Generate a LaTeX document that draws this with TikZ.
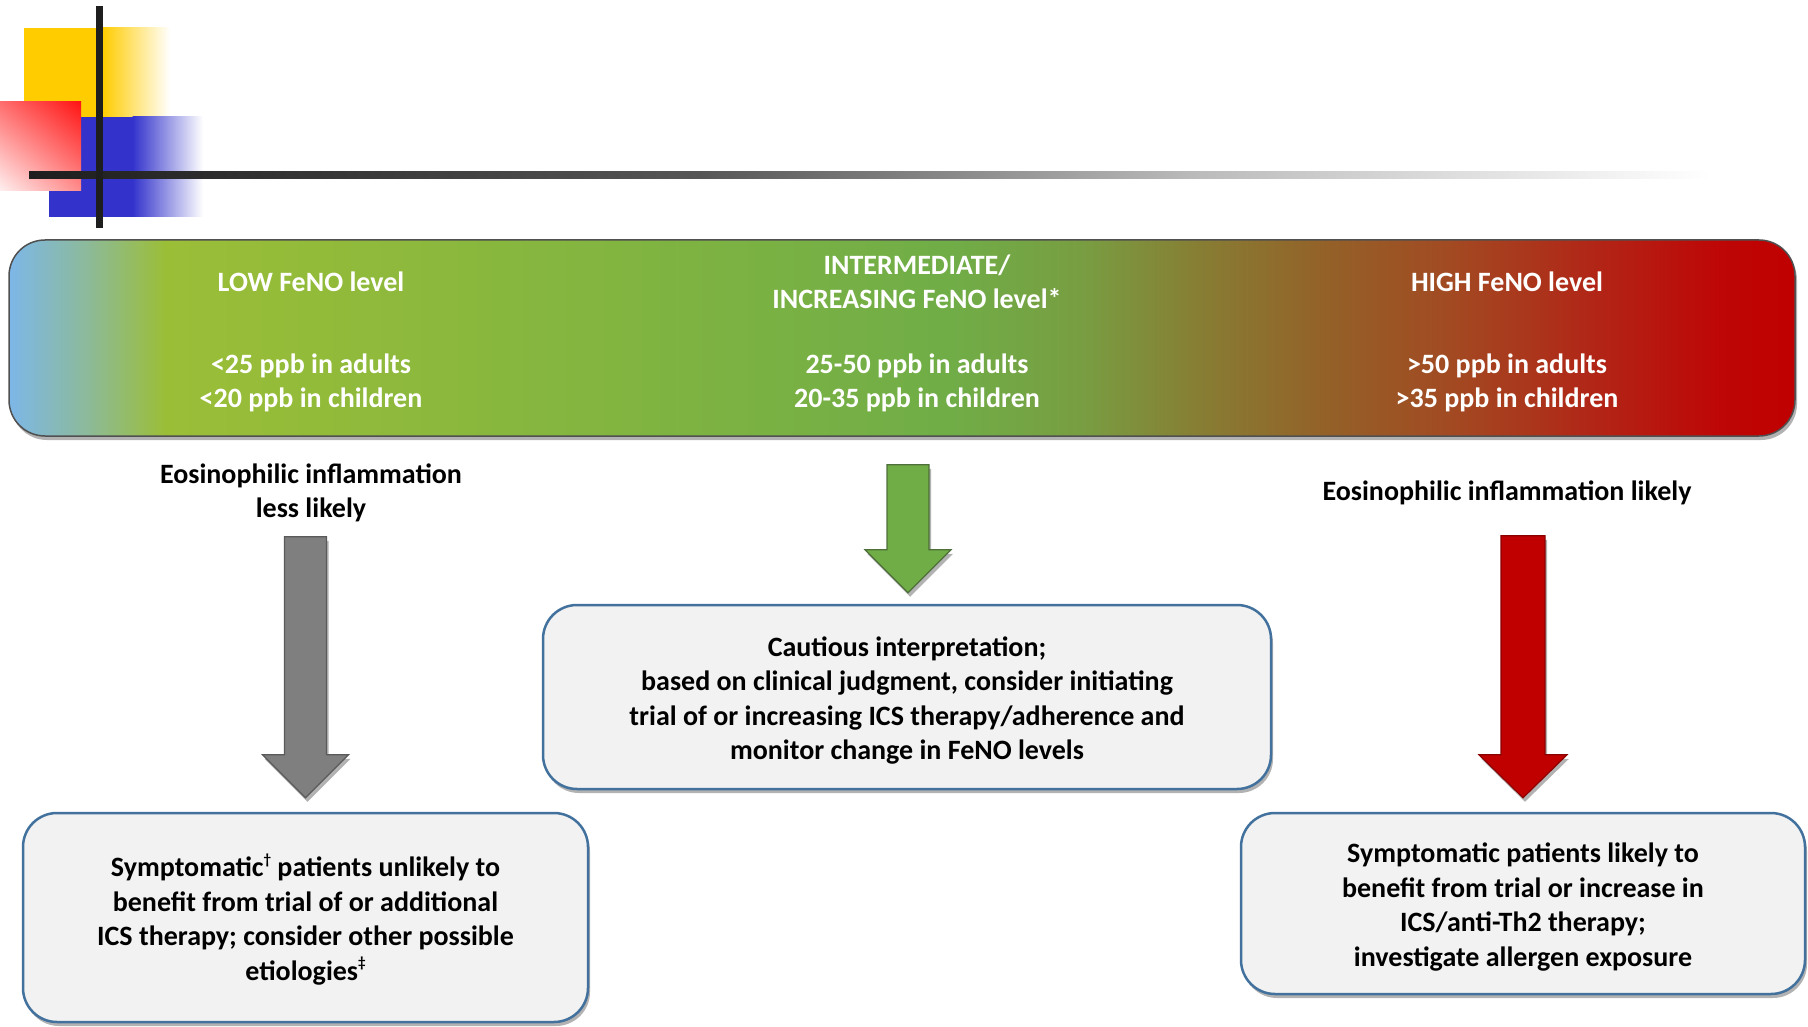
\documentclass[tikz,border=0pt]{standalone}
\usepackage{fontspec}
\setmainfont{Carlito}
\usetikzlibrary{shadows,calc,shadings}
\definecolor{logoyellow}{HTML}{FFCC00}
\definecolor{logoblue}{HTML}{3333CC}
\definecolor{logodark}{HTML}{1E1E1E}
\definecolor{redur}{HTML}{FF1414}
\definecolor{redul}{HTML}{FF6E6E}
\definecolor{redlr}{HTML}{FF8C8C}
\definecolor{redll}{HTML}{FFF0F0}
\definecolor{bc1}{HTML}{7DB7E8}
\definecolor{bc2}{HTML}{8DBA96}
\definecolor{bc3}{HTML}{9BBE37}
\definecolor{bc4}{HTML}{88B73E}
\definecolor{bc5}{HTML}{70AD47}
\definecolor{bc6}{HTML}{789E42}
\definecolor{bc7}{HTML}{877D33}
\definecolor{bc8}{HTML}{946028}
\definecolor{bc9}{HTML}{A24A22}
\definecolor{bc10}{HTML}{B22416}
\definecolor{bc11}{HTML}{BE0606}
\definecolor{bc12}{HTML}{C00000}
\definecolor{bandedge}{HTML}{505050}
\definecolor{boxfill}{HTML}{F2F2F2}
\definecolor{boxblue}{HTML}{41719C}
\definecolor{arrgray}{HTML}{7F7F7F}
\definecolor{arrgrayd}{HTML}{5A5A5A}
\definecolor{arrgreen}{HTML}{70AD47}
\definecolor{arrgreend}{HTML}{4F6F3A}
\definecolor{arrred}{HTML}{C00000}
\definecolor{arrredd}{HTML}{8C0000}
\newcommand\blockarrow[5]{%
  \path[#1] let \p1=(#2), \p2=(#3) in
    (\x1-#4,\y1) -- (\x1+#4,\y1) -- (\x1+#4,\y2+43pt) -- (\x1+#5,\y2+43pt)
    -- (\x2,\y2) -- (\x1-#5,\y2+43pt) -- (\x1-#4,\y2+43pt) -- cycle;}
\newcommand\supmark[1]{\raisebox{0.45em}{\fontsize{15}{15}\selectfont #1}}
\newcommand\topstrut{\rule{0pt}{27pt}}
\begin{document}
\begin{tikzpicture}[x=1pt,y=-1pt,
  txt/.style={font=\fontsize{28}{34.5}\selectfont\bfseries, align=center, inner sep=0pt},
  wtxt/.style={txt, text=white},
  shad/.style={drop shadow={shadow xshift=2pt,shadow yshift=-4pt,opacity=0.3,fill=black}},
  outbox/.style={shad, draw=boxblue, line width=2.5pt, fill=boxfill, rounded corners=34pt,
    inner sep=0pt, font=\fontsize{28}{34.5}\selectfont\bfseries, align=center},
  grayarrow/.style={shad, fill=arrgray, draw=arrgrayd, line width=1.2pt},
  greenarrow/.style={shad, fill=arrgreen, draw=arrgreend, line width=1.2pt},
  redarrow/.style={shad, fill=arrred, draw=arrredd, line width=1.2pt}]
\useasboundingbox (0,0) rectangle (1808,1027);
% logo
\fill[logoyellow] (24,28) rectangle (103,117);
\shade[left color=logoyellow, right color=white] (102.5,28) rectangle (170,117);
\fill[logoblue] (49,117) rectangle (133,217);
\shade[left color=logoblue, right color=white] (132.5,117) rectangle (203,217);
\shade[upper right=redur, upper left=redul, lower right=redlr, lower left=redll]
  (0,102) rectangle (81,191);
\shade[left color=logodark, right color=logodark!75!white] (29,172) rectangle (700.5,179);
\shade[left color=logodark!75!white, right color=logodark!30!white] (700,172) rectangle (1200.5,179);
\shade[left color=logodark!30!white, right color=white] (1200,172) rectangle (1710,179);
\fill[logodark] (96,6) rectangle (103,228);
% banner
\fill[black, opacity=0.3, rounded corners=36pt] (11,244) rectangle (1797,440);
\begin{scope}
  \clip[rounded corners=36pt] (9,240) rectangle (1795,436);
  \shade[left color=bc1, right color=bc2] (9,240) rectangle (90.5,436);
  \shade[left color=bc2, right color=bc3] (90,240) rectangle (165.5,436);
  \shade[left color=bc3, right color=bc4] (165,240) rectangle (500.5,436);
  \shade[left color=bc4, right color=bc5] (500,240) rectangle (950.5,436);
  \shade[left color=bc5, right color=bc6] (950,240) rectangle (1080.5,436);
  \shade[left color=bc6, right color=bc7] (1080,240) rectangle (1200.5,436);
  \shade[left color=bc7, right color=bc8] (1200,240) rectangle (1330.5,436);
  \shade[left color=bc8, right color=bc9] (1330,240) rectangle (1450.5,436);
  \shade[left color=bc9, right color=bc10] (1450,240) rectangle (1600.5,436);
  \shade[left color=bc10, right color=bc11] (1600,240) rectangle (1720.5,436);
  \shade[left color=bc11, right color=bc12] (1720,240) rectangle (1795,436);
\end{scope}
\node[draw=bandedge, line width=1.5pt, rounded corners=36pt, minimum width=1786pt,
  minimum height=196pt, inner sep=0pt] (banner) at (902,338) {};
\node[wtxt] (lowt) at (311,282) {LOW FeNO level};
\node[wtxt] (lowv) at (311,383) {<25 ppb in adults\\<20 ppb in children};
\node[wtxt] (midt) at (917,282) {INTERMEDIATE/\\INCREASING FeNO level*};
\node[wtxt] (midv) at (917,383) {25-50 ppb in adults\\20-35 ppb in children};
\node[wtxt] (hight) at (1507,282) {HIGH FeNO level};
\node[wtxt] (highv) at (1507,383) {>50 ppb in adults\\>35 ppb in children};
% labels
\node[txt] (lowlab) at (311,493) {Eosinophilic inflammation\\less likely};
\node[txt] (highlab) at (1507,493) {Eosinophilic inflammation likely};
% boxes
\node[outbox, minimum width=565pt, minimum height=209pt] (lbox) at (305.5,917.5)
  {\topstrut Symptomatic\supmark{†} patients unlikely to\\benefit from trial of or additional\\ICS therapy; consider other possible\\etiologies\supmark{‡}};
\node[outbox, minimum width=728pt, minimum height=184pt] (mbox) at (907,697)
  {\topstrut Cautious interpretation;\\based on clinical judgment, consider initiating\\trial of or increasing ICS therapy/adherence and\\monitor change in FeNO levels};
\node[outbox, minimum width=564pt, minimum height=181pt] (rbox) at (1523,903.5)
  {\topstrut Symptomatic patients likely to\\benefit from trial or increase in\\ICS/anti-Th2 therapy;\\investigate allergen exposure};
% arrows
\coordinate (ga2) at ($(lbox.north)+(0,-14)$);
\coordinate (ga1) at ($(ga2)+(0,-261)$);
\coordinate (gr2) at ($(mbox.north)+(1,-11)$);
\coordinate (gr1) at ($(gr2)+(0,-128)$);
\coordinate (rd2) at ($(rbox.north)+(0,-14)$);
\coordinate (rd1) at ($(rd2)+(0,-262)$);
\blockarrow{grayarrow}{ga1}{ga2}{21pt}{43pt}
\blockarrow{greenarrow}{gr1}{gr2}{21pt}{43pt}
\blockarrow{redarrow}{rd1}{rd2}{22pt}{44pt}
\end{tikzpicture}
\end{document}
